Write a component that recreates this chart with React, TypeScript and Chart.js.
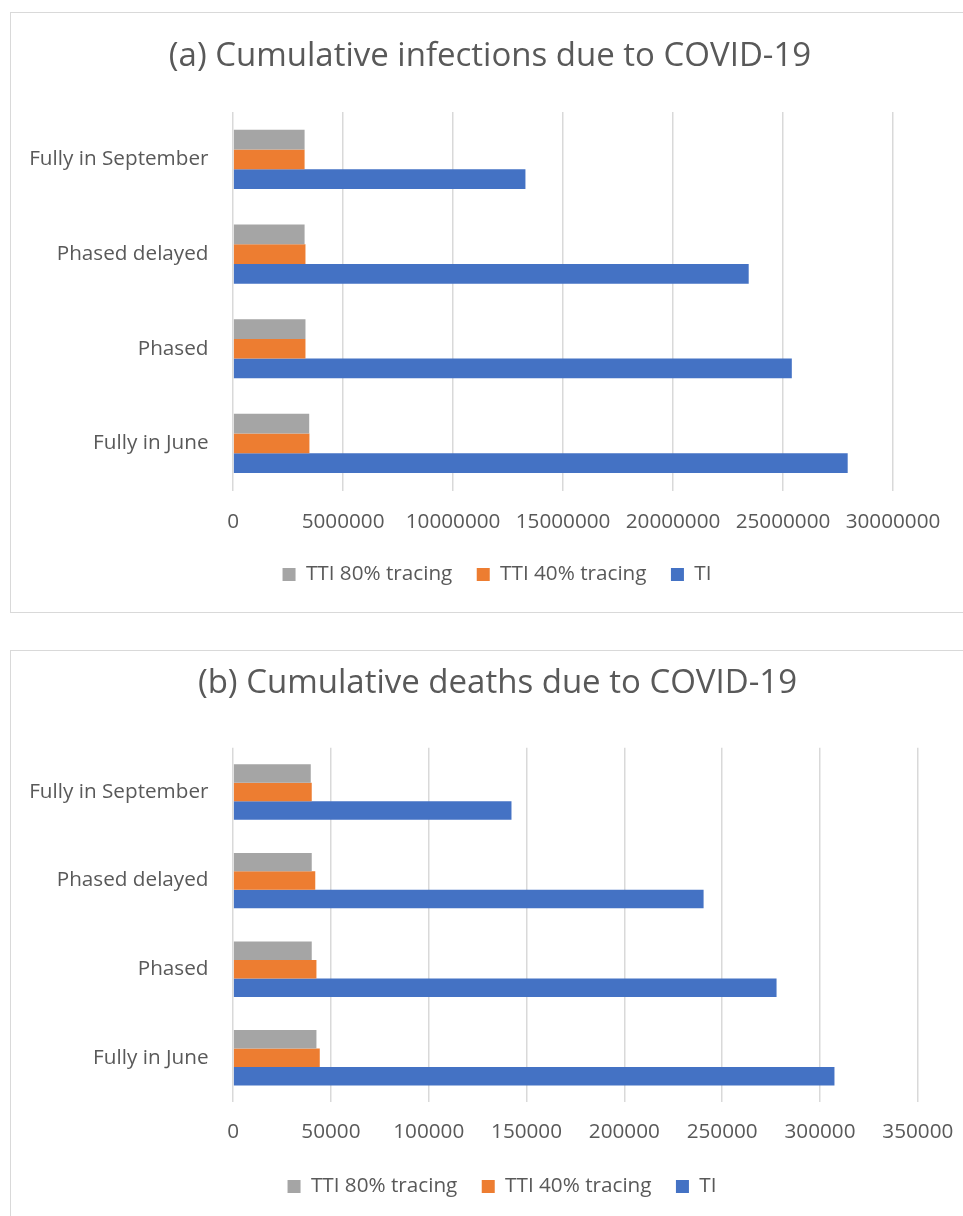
import React, { useEffect, useRef } from 'react';
import { Chart, registerables } from 'chart.js';

Chart.register(...registerables);

// ---- data ----
const categories = ['Fully in September', 'Phased delayed', 'Phased', 'Fully in June'];
const seriesNames = ['TTI 80% tracing', 'TTI 40% tracing', 'TI'];
const seriesColors = ['#A5A5A5', '#ED7D31', '#4472C4'];

const infectionsTTI80 = [3250000, 3250000, 3290000, 3460000];
const infectionsTTI40 = [3250000, 3290000, 3290000, 3470000];
const infectionsTI = [13290000, 23440000, 25400000, 27940000];
const infectionsAxisMax = 30000000;
const infectionsAxisStep = 5000000;

const deathsTTI80 = [39700, 40200, 40200, 42600];
const deathsTTI40 = [40200, 42000, 42600, 44300];
const deathsTI = [142300, 240500, 277800, 307400];
const deathsAxisMax = 350000;
const deathsAxisStep = 50000;

const titleA = '(a) Cumulative infections due to COVID-19';
const titleB = '(b) Cumulative deaths due to COVID-19';

const FONT = "'Open Sans', sans-serif";
const TEXT = '#595959';
const GRID = '#d9d9d9';

type Layout = {
  width: number;
  height: number;
  leftAxis: number;
  rightAxis: number;
  titleTop: number;
  titleBottom: number;
  xAxisHeight: number;
  xTickPad: number;
  padBottom: number;
  legendShift: number;
};

function ChartCanvas(props: {
  title: string;
  series: number[][];
  max: number;
  step: number;
  layout: Layout;
  style: React.CSSProperties;
}) {
  const ref = useRef<HTMLCanvasElement | null>(null);
  useEffect(() => {
    const L = props.layout;
    const shiftLegend = {
      id: 'shiftLegend',
      afterLayout(chart: any) {
        if (chart.legend) {
          chart.legend.left += L.legendShift;
          chart.legend.right += L.legendShift;
        }
      },
    };
    const chart = new Chart(ref.current as HTMLCanvasElement, {
      type: 'bar',
      data: {
        labels: categories,
        datasets: seriesNames.map((name, i) => ({
          label: name,
          data: props.series[i],
          backgroundColor: seriesColors[i],
          borderColor: seriesColors[i],
          borderWidth: 0,
          barPercentage: 1,
          categoryPercentage: 0.625,
        })),
      },
      plugins: [shiftLegend],
      options: {
        indexAxis: 'y',
        responsive: false,
        animation: false,
        devicePixelRatio: 1,
        layout: { padding: { top: 0, left: 0, right: 0, bottom: L.padBottom } },
        plugins: {
          title: {
            display: true,
            text: props.title,
            color: TEXT,
            font: { family: FONT, size: 33, weight: 'normal' },
            padding: { top: L.titleTop, bottom: L.titleBottom },
          },
          legend: {
            display: true,
            position: 'bottom',
            labels: {
              color: TEXT,
              font: { family: FONT, size: 20.7 },
              boxWidth: 13,
              boxHeight: 13,
              padding: 24.4,
            },
          },
          tooltip: { enabled: false },
        },
        scales: {
          x: {
            type: 'linear',
            min: 0,
            max: props.max,
            grid: { color: GRID, lineWidth: 1.5, drawTicks: false },
            border: { display: false },
            ticks: {
              stepSize: props.step,
              color: TEXT,
              font: { family: FONT, size: 20.7 },
              padding: L.xTickPad,
              maxRotation: 0,
              autoSkip: false,
              callback: (v: any) => String(v),
            },
            afterFit: (s: any) => {
              s.height = L.xAxisHeight;
            },
          },
          y: {
            type: 'category',
            grid: { display: false, drawTicks: false },
            border: { display: false },
            ticks: {
              color: TEXT,
              font: { family: FONT, size: 20.7 },
              padding: 24.6,
            },
            afterFit: (s: any) => {
              s.width = L.leftAxis;
            },
          },
          yRight: {
            type: 'linear',
            position: 'right',
            display: true,
            grid: { display: false, drawTicks: false },
            border: { display: false },
            ticks: { display: false },
            afterFit: (s: any) => {
              s.width = L.rightAxis;
            },
          },
        },
      } as any,
    });
    return () => chart.destroy();
  }, []);
  return (
    <canvas
      ref={ref}
      width={props.layout.width}
      height={props.layout.height}
      style={{ position: 'absolute', width: props.layout.width, height: props.layout.height, ...props.style }}
    />
  );
}

const layoutA: Layout = {
  width: 956,
  height: 598,
  leftAxis: 221.1,
  rightAxis: 75,
  titleTop: 23.2,
  titleBottom: 35.2,
  xAxisHeight: 48.95,
  xTickPad: 19,
  padBottom: 17.15,
  legendShift: 7,
};

const layoutB: Layout = {
  width: 971,
  height: 597,
  leftAxis: 221.1,
  rightAxis: 65.2,
  titleTop: 12.7,
  titleBottom: 44.4,
  xAxisHeight: 49.65,
  xTickPad: 18,
  padBottom: 41.15,
  legendShift: 4.5,
};

export default function App() {
  return (
    <div
      style={{
        position: 'absolute',
        left: 0,
        top: 0,
        width: 963,
        height: 1216,
        overflow: 'hidden',
        background: '#ffffff',
      }}
    >
      <div
        style={{
          position: 'absolute',
          left: 10,
          top: 12,
          width: 960,
          height: 601,
          border: `1.5px solid ${GRID}`,
          boxSizing: 'border-box',
        }}
      />
      <ChartCanvas
        title={titleA}
        series={[infectionsTTI80, infectionsTTI40, infectionsTI]}
        max={infectionsAxisMax}
        step={infectionsAxisStep}
        layout={layoutA}
        style={{ left: 11.5, top: 13.5 }}
      />
      <div
        style={{
          position: 'absolute',
          left: 10,
          top: 649.5,
          width: 975,
          height: 600,
          border: `1.5px solid ${GRID}`,
          boxSizing: 'border-box',
        }}
      />
      <ChartCanvas
        title={titleB}
        series={[deathsTTI80, deathsTTI40, deathsTI]}
        max={deathsAxisMax}
        step={deathsAxisStep}
        layout={layoutB}
        style={{ left: 11.5, top: 651 }}
      />
    </div>
  );
}
